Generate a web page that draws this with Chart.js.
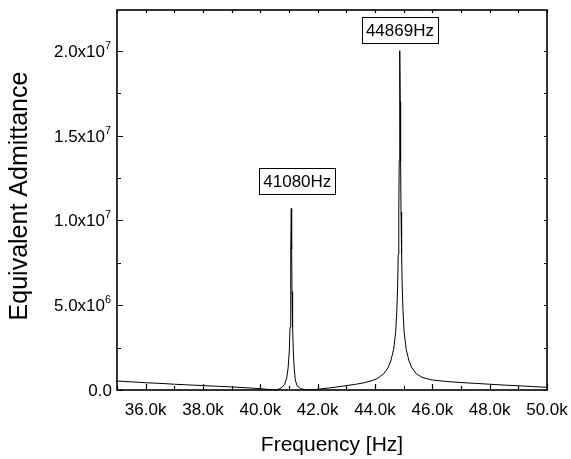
<!DOCTYPE html>
<html>
<head>
<meta charset="utf-8">
<script src="https://cdn.jsdelivr.net/npm/chart.js@4.4.0/dist/chart.umd.min.js"></script>
<style>
    body { margin: 0; background: #fff; }
    #wrap { width: 571px; height: 459px; }
</style>
</head>
<body>
<div id="wrap"><canvas id="grafico" width="571" height="459"></canvas></div>
<script>
// dados
const frequencias = [
    35000, 35500, 36000, 36500, 37000, 37500, 38000, 38500, 39000, 39500,
    40000, 40300, 40500, 40650, 40750, 40850, 40920, 40970, 41010, 41035,
    41055, 41068, 41080, 41092, 41105, 41125, 41150, 41180, 41220, 41280,
    41400, 41600, 41900, 42000, 42300, 42600, 43000, 43300, 43600, 43900,
    44100, 44300, 44450, 44550, 44650, 44720, 44760, 44790, 44810, 44830,
    44845, 44858, 44869, 44880, 44893, 44908, 44928, 44948, 44978, 45018,
    45088, 45188, 45290, 45440, 45640, 45840, 46000, 46500, 47000, 47500,
    48000, 48500, 49000, 49500, 50000
];
const admitancias = [
    5.3e5, 4.8e5, 4.3e5, 3.9e5, 3.4e5, 3.0e5, 2.6e5, 2.2e5, 1.8e5, 1.3e5,
    8e4, 3e4, 0, 5e4, 1.5e5, 3.5e5, 7e5, 1.3e6, 2.3e6, 3.7e6,
    5.8e6, 8.3e6, 1.07e7, 8.3e6, 5.8e6, 3.7e6, 2.3e6, 1.3e6, 6e5, 2.5e5,
    8e4, 1e4, 2e4, 4e4, 1e5, 1.6e5, 2.6e5, 3.3e5, 4.2e5, 5.5e5,
    7e5, 9.5e5, 1.3e6, 1.7e6, 2.4e6, 3.4e6, 4.6e6, 6.2e6, 8.0e6, 1.05e7,
    1.35e7, 1.7e7, 2.0e7, 1.7e7, 1.35e7, 1.05e7, 8.0e6, 6.2e6, 4.6e6, 3.4e6,
    2.4e6, 1.7e6, 1.3e6, 9.5e5, 7.5e5, 6.5e5, 5.9e5, 5.0e5, 4.4e5, 3.9e5,
    3.4e5, 2.9e5, 2.5e5, 2.0e5, 1.6e5
];

const xTicks = [36000, 38000, 40000, 42000, 44000, 46000, 48000, 50000];
const xTickLabels = ['36.0k', '38.0k', '40.0k', '42.0k', '44.0k', '46.0k', '48.0k', '50.0k'];
const xMinor = [35000, 37000, 39000, 41000, 43000, 45000, 47000, 49000];

const yTicks = [0, 5e6, 1e7, 1.5e7, 2e7];
const yTickBase = ['0.0', '5.0x10', '1.0x10', '1.5x10', '2.0x10'];
const yTickExp = ['', '6', '7', '7', '7'];
const yMinor = [2.5e6, 7.5e6, 1.25e7, 1.75e7];

const picos = [41080, 44869];
const picosTexto = ['41080Hz', '44869Hz'];
const caixaDesloc = [[6, 14], [0, 8]];

const fonte = '"Liberation Sans", Arial, sans-serif';

const eixosPlugin = {
    id: 'eixos',
    afterDraw(chart) {
        const ctx = chart.ctx;
        const a = chart.chartArea;
        const sx = chart.scales.x;
        const sy = chart.scales.y;
        ctx.save();
        ctx.strokeStyle = '#000';
        ctx.fillStyle = '#000';

        // ticks
        ctx.lineWidth = 1.2;
        ctx.beginPath();
        xTicks.forEach(v => {
            const p = Math.round(sx.getPixelForValue(v)) + 0.5;
            ctx.moveTo(p, a.bottom); ctx.lineTo(p, a.bottom - 6);
        });
        xMinor.forEach(v => {
            const p = Math.round(sx.getPixelForValue(v)) + 0.5;
            ctx.moveTo(p, a.bottom); ctx.lineTo(p, a.bottom - 4);
        });
        xTicks.concat(xMinor).forEach(v => {
            const p = Math.round(sx.getPixelForValue(v)) + 0.5;
            ctx.moveTo(p, a.top); ctx.lineTo(p, a.top + 3);
        });
        yTicks.forEach(v => {
            const p = Math.round(sy.getPixelForValue(v)) + 0.5;
            ctx.moveTo(a.left, p); ctx.lineTo(a.left + 6, p);
            ctx.moveTo(a.right, p); ctx.lineTo(a.right - 3, p);
        });
        yMinor.forEach(v => {
            const p = Math.round(sy.getPixelForValue(v)) + 0.5;
            ctx.moveTo(a.left, p); ctx.lineTo(a.left + 4, p);
            ctx.moveTo(a.right, p); ctx.lineTo(a.right - 3, p);
        });
        ctx.stroke();

        // moldura
        ctx.lineWidth = 1.6;
        ctx.strokeRect(a.left, a.top, a.right - a.left, a.bottom - a.top);

        // rotulos x
        ctx.font = '17px ' + fonte;
        ctx.textAlign = 'center';
        ctx.textBaseline = 'alphabetic';
        xTicks.forEach((v, i) => {
            ctx.fillText(xTickLabels[i], sx.getPixelForValue(v), a.bottom + 25);
        });

        // rotulos y
        yTicks.forEach((v, i) => {
            const p = sy.getPixelForValue(v);
            const expW = yTickExp[i] ? 7 : 0;
            ctx.font = '17px ' + fonte;
            ctx.textAlign = 'right';
            ctx.fillText(yTickBase[i], a.left - 5 - expW, p + 6);
            if (yTickExp[i]) {
                ctx.font = '11px ' + fonte;
                ctx.textAlign = 'left';
                ctx.fillText(yTickExp[i], a.left - 5 - expW, p - 2);
            }
        });

        // titulos
        ctx.font = '21px ' + fonte;
        ctx.textAlign = 'center';
        ctx.fillText('Frequency [Hz]', (a.left + a.right) / 2, 451);
        ctx.save();
        ctx.translate(27, 196);
        ctx.rotate(-Math.PI / 2);
        ctx.font = '25px ' + fonte;
        ctx.fillText('Equivalent Admittance', 0, 0);
        ctx.restore();

        // caixas dos picos
        ctx.font = '17px ' + fonte;
        ctx.lineWidth = 1;
        picos.forEach((f, i) => {
            const val = admitancias[frequencias.indexOf(f)];
            const px = sx.getPixelForValue(f) + caixaDesloc[i][0];
            const py = sy.getPixelForValue(val) - caixaDesloc[i][1];
            const w = ctx.measureText(picosTexto[i]).width + 8;
            const h = 26;
            ctx.strokeRect(Math.round(px - w / 2) + 0.5, Math.round(py - h) + 0.5, Math.round(w), h);
            ctx.textAlign = 'center';
            ctx.fillText(picosTexto[i], px, py - 7);
        });
        ctx.restore();
    }
};

const grafico = document.getElementById('grafico').getContext('2d');

new Chart(grafico, {
    type: 'line',
    data: {
        datasets: [{
            data: frequencias.map((f, i) => ({ x: f, y: admitancias[i] })),
            borderColor: '#000',
            borderWidth: 1,
            borderJoinStyle: 'round',
            pointRadius: 0,
            tension: 0,
            fill: false
        }]
    },
    options: {
        responsive: false,
        animation: false,
        layout: { padding: { top: 10, right: 24, left: 0, bottom: 0 } },
        plugins: { legend: { display: false }, tooltip: { enabled: false } },
        scales: {
            x: {
                type: 'linear',
                min: 35000,
                max: 50000,
                grid: { display: false },
                border: { display: false },
                ticks: { display: false },
                afterFit(s) { s.height = 69; }
            },
            y: {
                min: 0,
                max: 2.24e7,
                grid: { display: false },
                border: { display: false },
                ticks: { display: false },
                afterFit(s) { s.width = 117; }
            }
        }
    },
    plugins: [eixosPlugin]
});
</script>
</body>
</html>
